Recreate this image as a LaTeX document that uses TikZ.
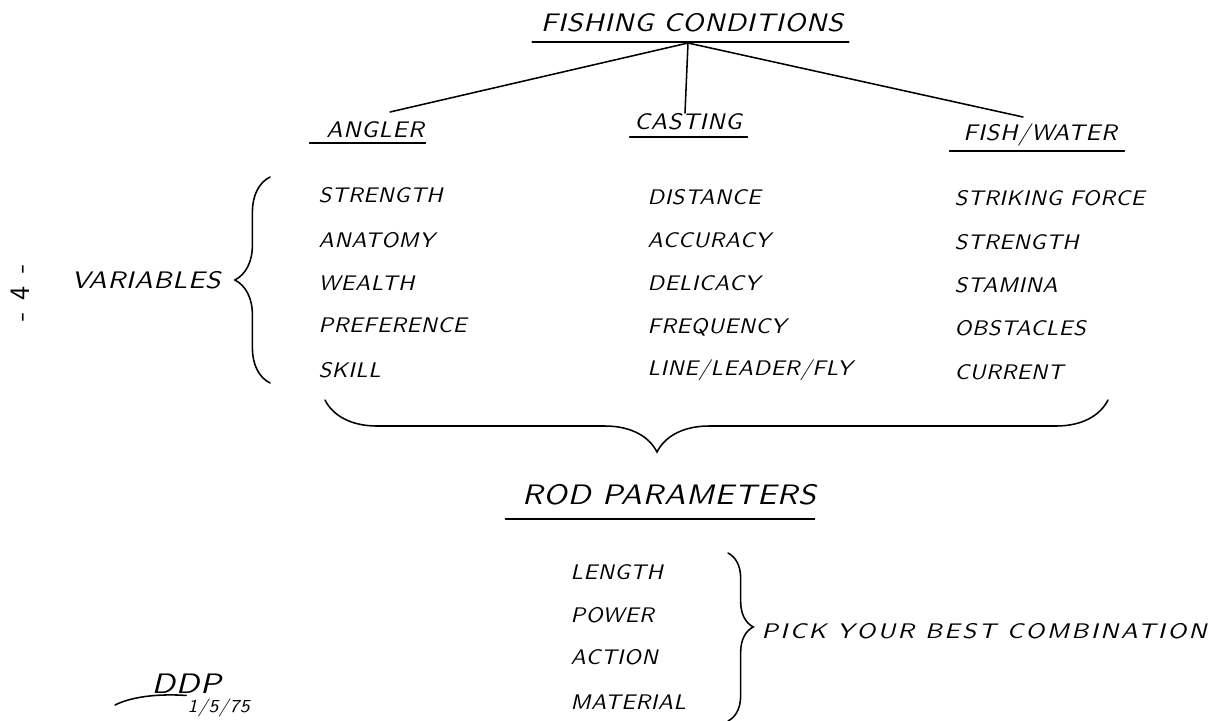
\documentclass[tikz,border=0pt]{standalone}
\usepackage{fontspec}
\usetikzlibrary{decorations.pathreplacing,calc,positioning}
\newfontfamily\handtitle{lmsans10-oblique.otf}[FakeStretch=1.13,LetterSpace=3]
\newfontfamily\handhead{lmsans10-oblique.otf}[FakeStretch=1.08,LetterSpace=4]
\newfontfamily\handentry{lmsans10-oblique.otf}[FakeStretch=1.08,LetterSpace=3]
\newfontfamily\handvar{lmsans10-oblique.otf}[FakeStretch=1.15,LetterSpace=3]
\newfontfamily\handwide{lmsans10-oblique.otf}[FakeStretch=1.2,LetterSpace=12]
\newfontfamily\handpage{lmsans10-regular.otf}[LetterSpace=10]

\begin{document}
\begin{tikzpicture}
[x=0.025cm,y=-0.025cm,
bigtitle/.style={font=\fontsize{18}{20}\handtitle,inner sep=1pt},
rodtitle/.style={font=\fontsize{20}{22}\handtitle,inner sep=1pt},
colhead/.style={font=\fontsize{16}{18}\handhead,inner sep=1pt},
entrytext/.style={anchor=west,font=\fontsize{15}{17}\handentry,inner sep=1pt},
pen/.style={line width=1.1pt,line cap=round},
curly/.style={pen,decorate,decoration={brace}}]
\useasboundingbox[fill=white] (0,0) rectangle (1230,721);
%%
% top heading and its fork
%%
\node[bigtitle] (fc) at (692,23) {FISHING CONDITIONS};
\draw[pen] ($(fc.south west)+(-7,8)$) -- ($(fc.south east)+(4,8)$);
\coordinate (fork) at (688,43);
%%
% column heads
%%
\node[colhead] (angler) at (375,130) {ANGLER};
\node[colhead] (casting) at (688,122) {CASTING};
\node[colhead] (fishwater) at (1040,135) {FISH/WATER};
\draw[pen] ($(angler.south west)+(-15,3)$) -- ($(angler.south east)+(0,3)$);
\draw[pen] ($(casting.south west)+(-3,5)$) -- ($(casting.south east)+(4,5)$);
\draw[pen] ($(fishwater.south west)+(-12,3)$) -- ($(fishwater.south east)+(6,3)$);
\coordinate (a-end) at (390,112);
\coordinate (c-end) at (685,113);
\coordinate (f-end) at (1023,117);
\draw[pen] (fork) -- (a-end);
\draw[pen] (fork) -- (c-end);
\draw[pen] (fork) -- (f-end);
%%
% variables
%%
\node[entrytext] (a1) at (317,195) {STRENGTH};
\node[entrytext] (a2) at (317,240) {ANATOMY};
\node[entrytext] (a3) at (317,283) {WEALTH};
\node[entrytext] (a4) at (317,325) {PREFERENCE};
\node[entrytext] (a5) at (317,370) {SKILL};
%%
\node[entrytext] (c1) at (646,197) {DISTANCE};
\node[entrytext] (c2) at (646,240) {ACCURACY};
\node[entrytext] (c3) at (646,283) {DELICACY};
\node[entrytext] (c4) at (646,327) {FREQUENCY};
\node[entrytext] (c5) at (646,370) {LINE/LEADER/FLY};
%%
\node[entrytext] (f1) at (953,198) {STRIKING FORCE};
\node[entrytext] (f2) at (953,242) {STRENGTH};
\node[entrytext] (f3) at (953,285) {STAMINA};
\node[entrytext] (f4) at (953,328) {OBSTACLES};
\node[entrytext] (f5) at (953,372) {CURRENT};
%%
\node[entrytext,font=\fontsize{17}{19}\handvar] (var) at (70,280) {VARIABLES};
\node[inner sep=0pt,rotate=90,font=\fontsize{20}{22}\handpage] (page) at (20,293) {- 4 -};
\coordinate (vb-bot) at (270,383);
\coordinate (vb-top) at (270,177);
\draw[curly,decoration={amplitude=25pt}] (vb-bot) -- (vb-top);
%%
% rod parameters
%%
\coordinate (bb-right) at (1108,400);
\coordinate (bb-left) at (325,400);
\draw[curly,decoration={amplitude=37pt,aspect=0.576}] (bb-right) -- (bb-left);
\node[rodtitle] (rod) at (669,495) {ROD PARAMETERS};
\draw[pen] ($(rod.south west)+(-15,12)$) -- ($(rod.south east)+(-3,12)$);
\node[entrytext] (r1) at (569,572) {LENGTH};
\node[entrytext] (r2) at (569,615) {POWER};
\node[entrytext] (r3) at (569,657) {ACTION};
\node[entrytext] (r4) at (569,702) {MATERIAL};
\coordinate (rb-top) at (728,553);
\coordinate (rb-bot) at (728,721);
\draw[curly,decoration={amplitude=18pt,aspect=0.44}] (rb-top) -- (rb-bot);
\node[entrytext,font=\fontsize{15}{17}\handwide] (pick) at (760,631) {PICK YOUR BEST COMBINATION};
%%
% signature
%%
\node[entrytext,font=\fontsize{20}{22}\handvar] (sig) at (150,684) {DDP};
\node[entrytext,anchor=south west,font=\fontsize{13}{15}\handentry] (date) at (186,719) {1/5/75};
\draw[pen] (115,705) .. controls (135,695) and (165,694) .. (sig.south);
\end{tikzpicture}
\end{document}
